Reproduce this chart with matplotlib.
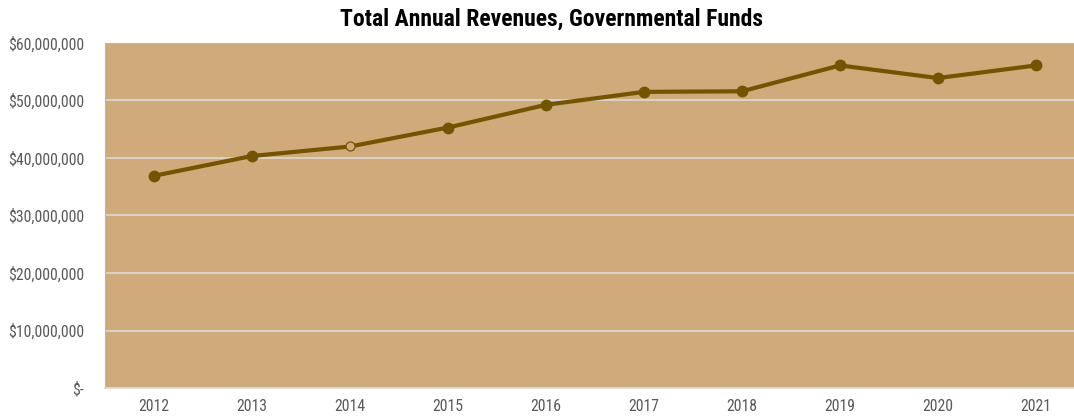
import matplotlib.pyplot as plt
import matplotlib.ticker as mticker
from matplotlib import font_manager

years = ['2012', '2013', '2014', '2015', '2016', '2017', '2018', '2019', '2020', '2021']
revenues = [36.9e6, 40.35e6, 42.0e6, 45.3e6, 49.25e6, 51.5e6, 51.6e6, 56.1e6, 53.9e6, 56.1e6]
yticks = [0, 10e6, 20e6, 30e6, 40e6, 50e6, 60e6]

# prefer a narrow face if one is installed
installed = {f.name for f in font_manager.fontManager.ttflist}
narrow = [n for n in ['Liberation Sans Narrow', 'Roboto Condensed', 'DejaVu Sans Condensed',
                      'Open Sans Condensed', 'Liberation Sans'] if n in installed]
plt.rcParams['font.family'] = narrow[:1] + ['DejaVu Sans']
plt.rcParams['font.stretch'] = 'condensed'

bg = '#CFAA7A'
line_col = '#735500'

fig = plt.figure(figsize=(10.74, 4.19), dpi=100)
ax = fig.add_axes([105 / 1074, 1 - 388 / 419, 980 / 1074, 345 / 419])
ax.set_facecolor(bg)

x = list(range(len(years)))
ax.plot(x, revenues, color=line_col, linewidth=3.0, zorder=3)
# 2014 point is drawn as an open circle
for i, v in enumerate(revenues):
    if years[i] == '2014':
        ax.plot(i, v, 'o', markersize=6.5, markerfacecolor=bg, markeredgecolor=line_col,
                markeredgewidth=0.9, zorder=4)
    else:
        ax.plot(i, v, 'o', markersize=7.5, color=line_col, zorder=4)

ax.set_xlim(-0.5, len(years) - 0.5)
ax.set_ylim(0, 60e6)
ax.set_xticks(x)
ax.set_xticklabels(years)
ax.set_yticks(yticks)


def money(v, pos):
    if v == 0:
        return '$-'
    return '${:,.0f}'.format(v)


ax.yaxis.set_major_formatter(mticker.FuncFormatter(money))
ax.grid(axis='y', color='#D9D9D9', linewidth=1.2, zorder=1)
ax.set_axisbelow(True)
ax.tick_params(length=0, labelsize=11.3, labelcolor='#595959')
ax.tick_params(axis='x', pad=8)
ax.tick_params(axis='y', pad=15)

ax.spines['right'].set_visible(False)
ax.spines['left'].set_color('#A9BCD6')
ax.spines['top'].set_color('#A9BCD6')
ax.spines['bottom'].set_color('#D9D9D9')
ax.spines['bottom'].set_linewidth(1.2)

fig.text(551 / 1074, 1 - 19 / 419, 'Total Annual Revenues, Governmental Funds', ha='center', va='center',
         fontsize=17, fontweight='bold', color='black')

fig.savefig('out.png', dpi=100)
